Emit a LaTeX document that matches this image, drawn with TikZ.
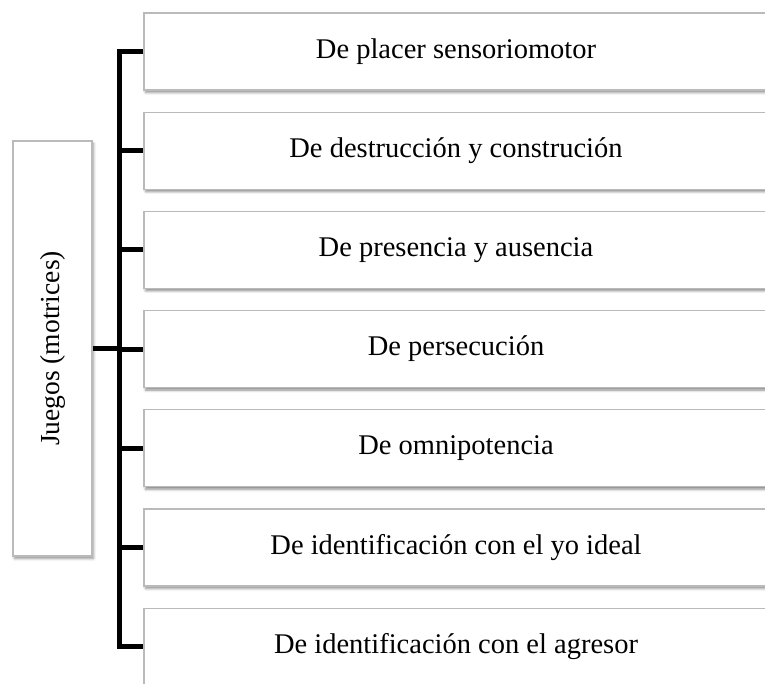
\documentclass[tikz,border=0pt]{standalone}
\usepackage{fontspec}
\setmainfont{Liberation Serif}
\usetikzlibrary{shadows.blur}
\begin{document}
\begin{tikzpicture}[x=1pt,y=1pt,
  box/.style={draw=black!27, line width=1.3pt, fill=white, rectangle,
    blur shadow={shadow xshift=1.5pt, shadow yshift=-2.5pt, shadow blur radius=2.5pt, shadow opacity=45},
    inner sep=0pt, font=\fontsize{27.5}{33}\selectfont},
  item/.style={box, minimum width=624, minimum height=77, font=\fontsize{28.5}{34}\selectfont},
  conn/.style={line width=5pt, line join=miter, draw=black}]
\useasboundingbox (0,0) rectangle (765,-684);
\coordinate (t) at (119,0);
\node[box, minimum width=79, minimum height=415] (L) at (52.5,-348.5) {\rotatebox{90}{Juegos (motrices)}};
\node[item] (b1) at (456,-51.5) {De placer sensoriomotor};
\node[item] (b2) at (456,-150.7) {De destrucción y construción};
\node[item] (b3) at (456,-249.9) {De presencia y ausencia};
\node[item] (b4) at (456,-349.1) {De persecución};
\node[item] (b5) at (456,-448.3) {De omnipotencia};
\node[item] (b6) at (456,-547.5) {De identificación con el yo ideal};
\node[item] (b7) at (456,-646.7) {De identificación con el agresor};
\draw[conn] (b1.west) -- (b1.west -| t) -- (b7.west -| t) -- (b7.west);
\foreach \n in {b2,b3,b4,b5,b6} \draw[conn] (\n.west -| t) -- (\n.west);
\draw[conn] (L.east) -- (L.east -| t);
\end{tikzpicture}
\end{document}
